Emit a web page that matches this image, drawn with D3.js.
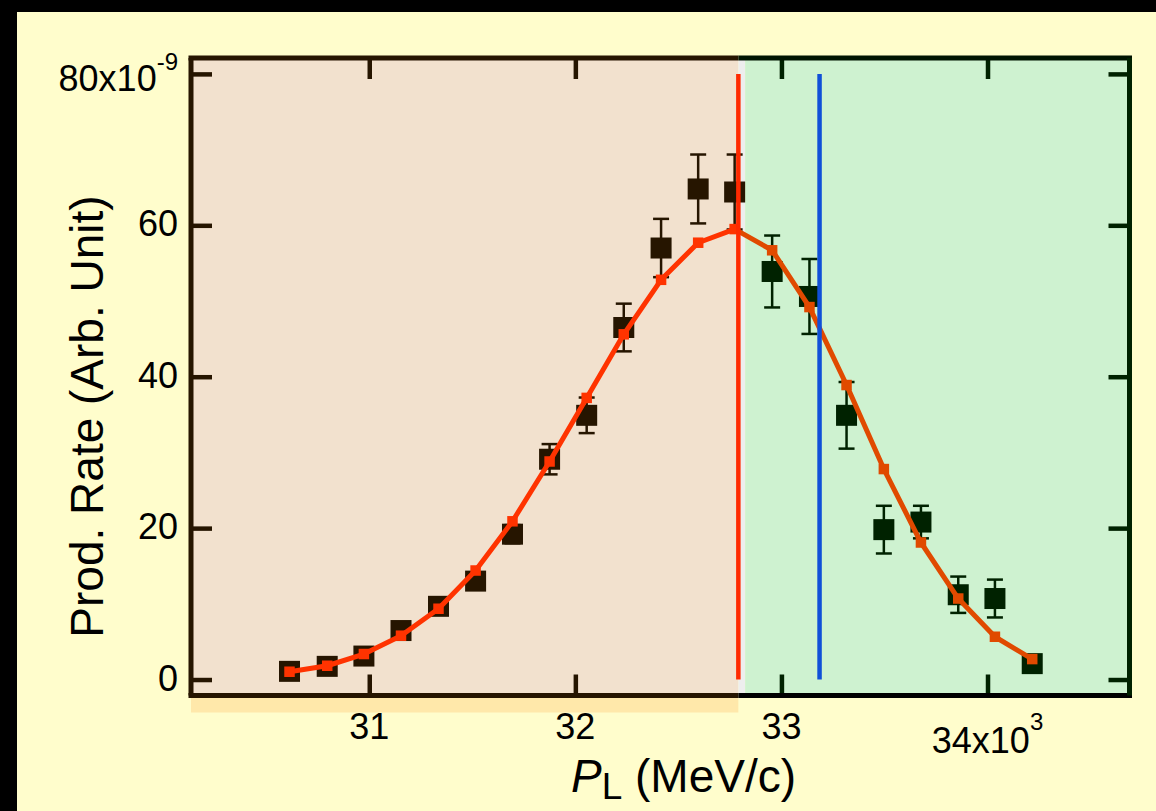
<!DOCTYPE html>
<html>
<head>
<meta charset="utf-8">
<script src="https://cdn.jsdelivr.net/npm/d3@7"></script>
<style>
  html, body { margin: 0; padding: 0; background: #000; }
  svg { display: block; }
  text { font-family: "Liberation Sans", Arial, Helvetica, sans-serif; fill: #000; }
</style>
</head>
<body>
<svg id="chart" width="1156" height="811"></svg>
<script>
// ---------------- data ----------------
const momentum = [30.613, 30.796, 30.974, 31.154, 31.336, 31.516, 31.695, 31.875, 32.055, 32.235, 32.416,
                  32.596, 32.773, 32.955, 33.136, 33.316, 33.497, 33.677, 33.858, 34.036, 34.217];
const measured = [1.08, 1.74, 3.1, 6.47, 9.67, 13.0, 19.2, 29.1, 34.9, 46.5, 57.0,
                  64.8, 64.4, 53.9, 50.6, 34.9, 19.8, 20.8, 11.2, 10.7, 2.1];
const measuredErr = [0.4, 0.4, 0.5, 0.6, 0.8, 0.9, 1.2, 2.0, 2.35, 3.15, 3.85,
                     4.55, 4.95, 4.75, 4.95, 4.4, 3.15, 2.15, 2.4, 2.5, 0.5];
const fitted = [1.03, 1.82, 3.37, 5.79, 9.35, 14.4, 20.9, 28.8, 37.2, 45.6, 52.8,
                57.7, 59.5, 56.7, 49.2, 38.9, 27.8, 18.1, 10.7, 5.65, 2.7];
const redLineX = 32.791;
const blueLineX = 33.185;
const regionSplit = [32.791, 32.824];
const xTicks = [31, 32, 33, 34];
const xTickLabels = ["31", "32", "33", "34x10"];
const xTickExp = ["", "", "", "3"];
const yTicks = [0, 20, 40, 60, 80];
const yTickLabels = ["0", "20", "40", "60", "80x10"];
const yTickExp = ["", "", "", "", "-9"];
const xDomain = [30.135, 34.689];
const yDomain = [-2.11, 82.1];

// ---------------- layout ----------------
const W = 1156, H = 811;
const L = 191, R = 1129.5, T = 58, B = 695.5;
const svg = d3.select("#chart");

const x = d3.scaleLinear().domain(xDomain).range([L, R]);
const y = d3.scaleLinear().domain(yDomain).range([B, T]);

const BROWN = "#261500";
const GREEN = "#002200";

// page background & black frame
svg.append("rect").attr("x", 0).attr("y", 0).attr("width", W).attr("height", H).attr("fill", "#000");
svg.append("rect").attr("x", 17).attr("y", 12).attr("width", W - 17).attr("height", H - 12).attr("fill", "#FFFDCC");

const splitPx0 = x(regionSplit[0]), splitPx1 = x(regionSplit[1]);

// plot backgrounds
svg.append("rect").attr("x", L).attr("y", T).attr("width", splitPx0 - L).attr("height", B - T).attr("fill", "#F2E1CE");
svg.append("rect").attr("x", splitPx0).attr("y", T).attr("width", splitPx1 - splitPx0).attr("height", B - T).attr("fill", "#EEEEEE");
svg.append("rect").attr("x", splitPx1).attr("y", T).attr("width", R - splitPx1).attr("height", B - T).attr("fill", "#CEF2D0");
// orange strip below axis (left region)
svg.append("rect").attr("x", L).attr("y", B + 2).attr("width", splitPx0 - L).attr("height", 15).attr("fill", "#FFE8AA");

// ticks via d3 axes
const tickLen = 21;
function styleAxis(g) {
  g.select(".domain").remove();
  g.selectAll(".tick line").attr("stroke-width", 4.5);
  g.selectAll(".tick text").remove();
}
const colorForX = v => (x(v) < splitPx0 ? BROWN : GREEN);

svg.append("g").attr("transform", `translate(${L},0)`)
  .call(d3.axisLeft(y).tickValues(yTicks).tickSizeInner(-tickLen).tickSizeOuter(0).tickFormat(""))
  .call(styleAxis).selectAll(".tick line").attr("stroke", BROWN);
svg.append("g").attr("transform", `translate(${R},0)`)
  .call(d3.axisRight(y).tickValues(yTicks).tickSizeInner(-tickLen).tickSizeOuter(0).tickFormat(""))
  .call(styleAxis).selectAll(".tick line").attr("stroke", GREEN);
svg.append("g").attr("transform", `translate(0,${B})`)
  .call(d3.axisBottom(x).tickValues(xTicks).tickSizeInner(-tickLen).tickSizeOuter(0).tickFormat(""))
  .call(styleAxis).selectAll(".tick line").attr("stroke", d => colorForX(d));
svg.append("g").attr("transform", `translate(0,${T})`)
  .call(d3.axisTop(x).tickValues(xTicks).tickSizeInner(-tickLen).tickSizeOuter(0).tickFormat(""))
  .call(styleAxis).selectAll(".tick line").attr("stroke", d => colorForX(d));

// frame lines
const fw = 5;
svg.append("line").attr("x1", L - 2.5).attr("x2", splitPx0).attr("y1", T).attr("y2", T).attr("stroke", BROWN).attr("stroke-width", fw);
svg.append("line").attr("x1", splitPx0).attr("x2", R + 2.5).attr("y1", T).attr("y2", T).attr("stroke", "#001400").attr("stroke-width", fw);
svg.append("line").attr("x1", L - 2.5).attr("x2", splitPx0).attr("y1", B).attr("y2", B).attr("stroke", BROWN).attr("stroke-width", fw);
svg.append("line").attr("x1", splitPx0).attr("x2", R + 2.5).attr("y1", B).attr("y2", B).attr("stroke", "#000").attr("stroke-width", fw);
svg.append("line").attr("x1", L).attr("x2", L).attr("y1", T).attr("y2", B).attr("stroke", BROWN).attr("stroke-width", fw);
svg.append("line").attr("x1", R).attr("x2", R).attr("y1", T).attr("y2", B).attr("stroke", GREEN).attr("stroke-width", fw);

// tick labels
const ytl = svg.append("g");
yTicks.forEach((v, i) => {
  const t = ytl.append("text").attr("x", 178).attr("y", y(v) + (yTickExp[i] ? 17.5 : 11))
    .attr("text-anchor", "end").attr("font-size", 36);
  t.append("tspan").text(yTickLabels[i]);
  if (yTickExp[i]) t.append("tspan").attr("font-size", 24).attr("dy", -21).text(yTickExp[i]);
});
const xtl = svg.append("g");
xTicks.forEach((v, i) => {
  const t = xtl.append("text").attr("x", x(v)).attr("y", xTickExp[i] ? 753 : 739)
    .attr("text-anchor", "middle").attr("font-size", 36);
  t.append("tspan").text(xTickLabels[i]);
  if (xTickExp[i]) t.append("tspan").attr("font-size", 24).attr("dy", -23).text(xTickExp[i]);
});

// axis titles
svg.append("text")
  .attr("transform", `translate(103,416.5) rotate(-90)`)
  .attr("text-anchor", "middle").attr("font-size", 46)
  .text("Prod. Rate (Arb. Unit)");
const xt = svg.append("text").attr("x", 571).attr("y", 792).attr("font-size", 46);
xt.append("tspan").attr("font-style", "italic").text("P");
xt.append("tspan").attr("font-size", 37).attr("dy", 7).text("L");
xt.append("tspan").attr("dy", -7).text(" (MeV/c)");

// measured points with error bars
const pts = momentum.map((m, i) => ({ m, v: measured[i], e: measuredErr[i], c: m < regionSplit[0] ? BROWN : GREEN }));
const eg = svg.append("g");
const capW = 16;
pts.forEach(p => {
  eg.append("line").attr("x1", x(p.m)).attr("x2", x(p.m)).attr("y1", y(p.v - p.e)).attr("y2", y(p.v + p.e))
    .attr("stroke", p.c).attr("stroke-width", 2.5);
  [p.v - p.e, p.v + p.e].forEach(yy => {
    eg.append("line").attr("x1", x(p.m) - capW / 2).attr("x2", x(p.m) + capW / 2).attr("y1", y(yy)).attr("y2", y(yy))
      .attr("stroke", p.c).attr("stroke-width", 2.5);
  });
});
const sq = 21;
svg.append("g").selectAll("rect").data(pts).join("rect")
  .attr("x", d => x(d.m) - sq / 2).attr("y", d => y(d.v) - sq / 2)
  .attr("width", sq).attr("height", sq).attr("fill", d => d.c);

// fit curve (two colours)
const fitPts = momentum.map((m, i) => ({ m, v: fitted[i] }));
const peakIdx = 12;
const line = d3.line().x(d => x(d.m)).y(d => y(d.v));
const fitLeft = fitPts.slice(0, peakIdx + 1), fitRight = fitPts.slice(peakIdx);
svg.append("path").attr("d", line(fitRight)).attr("fill", "none").attr("stroke", "#E04A00").attr("stroke-width", 5).attr("stroke-linejoin", "round");
svg.append("path").attr("d", line(fitLeft)).attr("fill", "none").attr("stroke", "#FF3300").attr("stroke-width", 5).attr("stroke-linejoin", "round");
const fm = 10.5;
svg.append("g").selectAll("rect").data(fitPts).join("rect")
  .attr("x", d => x(d.m) - fm / 2).attr("y", d => y(d.v) - fm / 2)
  .attr("width", fm).attr("height", fm)
  .attr("fill", (d, i) => i <= peakIdx ? "#FF3300" : "#E04A00");

// vertical markers
svg.append("line").attr("x1", x(redLineX)).attr("x2", x(redLineX)).attr("y1", y(80)).attr("y2", y(0))
  .attr("stroke", "#FF2A00").attr("stroke-width", 4.5);
svg.append("line").attr("x1", x(blueLineX)).attr("x2", x(blueLineX)).attr("y1", y(80)).attr("y2", y(0))
  .attr("stroke", "#1050D8").attr("stroke-width", 4.5);
</script>
</body>
</html>
